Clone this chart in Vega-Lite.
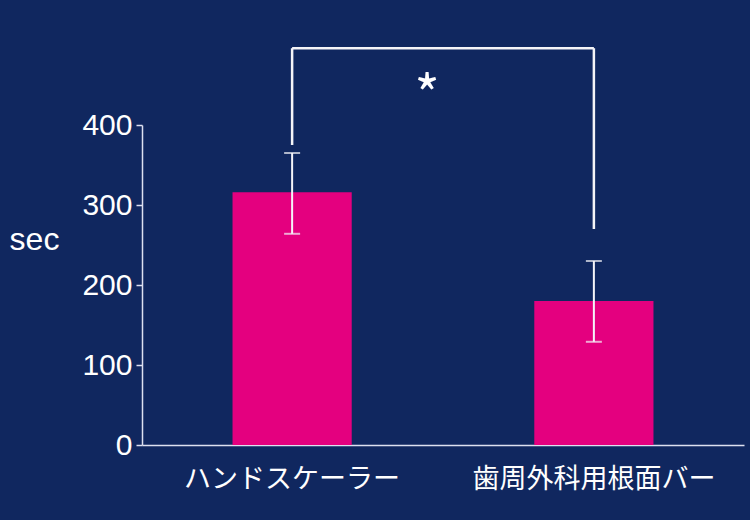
{
  "$schema": "https://vega.github.io/schema/vega-lite/v6.json",
  "autosize": "none",
  "width": 602,
  "height": 320,
  "padding": {"left": 142, "top": 125, "right": 6, "bottom": 75},
  "background": "#10275f",
  "config": {"view": {"stroke": null}},
  "datasets": {
    "bars": [
      {"cat": "ハンドスケーラー", "mean": 316, "lo": 264, "hi": 365},
      {"cat": "歯周外科用根面バー", "mean": 180, "lo": 129, "hi": 230}
    ],
    "legs": [
      {"cat": "ハンドスケーラー", "y": 375, "y2": 496},
      {"cat": "歯周外科用根面バー", "y": 270, "y2": 496}
    ],
    "top": [
      {"from": "ハンドスケーラー", "to": "歯周外科用根面バー", "y": 496, "label": "*", "ly": 452}
    ]
  },
  "encoding": {
    "x": {
      "field": "cat", "type": "nominal", "sort": null,
      "scale": {"domain": ["ハンドスケーラー", "歯周外科用根面バー"], "paddingInner": 0.605, "paddingOuter": 0.3},
      "axis": {
        "title": null, "labelAngle": 0, "ticks": false, "labelLimit": 0,
        "domainColor": "#dde0f0", "domainWidth": 1.5,
        "labelColor": "#ffffff", "labelFont": "Noto Sans CJK JP", "labelFontSize": 27,
        "labelPadding": 21
      }
    }
  },
  "layer": [
    {
      "data": {"name": "bars"},
      "mark": {"type": "bar", "color": "#e4007f"},
      "encoding": {
        "y": {
          "field": "mean", "type": "quantitative",
          "scale": {"domain": [0, 400], "nice": false},
          "axis": {
            "values": [0, 100, 200, 300, 400], "grid": false,
            "domainColor": "#dde0f0", "domainWidth": 1.5,
            "tickColor": "#dde0f0", "tickWidth": 1.5, "tickSize": 6,
            "labelColor": "#ffffff", "labelFont": "Liberation Sans", "labelFontSize": 30,
            "labelPadding": 4,
            "title": "sec", "titleAngle": 0, "titleColor": "#ffffff",
            "titleFont": "Liberation Sans", "titleFontSize": 32, "titleFontWeight": "normal",
            "titleAlign": "center", "titleBaseline": "middle", "titleX": -108, "titleY": 114
          }
        }
      }
    },
    {
      "data": {"name": "bars"},
      "mark": {"type": "rule", "color": "#f4f4f8", "strokeWidth": 2},
      "encoding": {"y": {"field": "lo", "type": "quantitative"}, "y2": {"field": "hi"}}
    },
    {
      "data": {"name": "bars"},
      "mark": {"type": "tick", "color": "#f4f4f8", "thickness": 2, "size": 16, "orient": "horizontal"},
      "encoding": {"y": {"field": "lo", "type": "quantitative"}}
    },
    {
      "data": {"name": "bars"},
      "mark": {"type": "tick", "color": "#f4f4f8", "thickness": 2, "size": 16, "orient": "horizontal"},
      "encoding": {"y": {"field": "hi", "type": "quantitative"}}
    },
    {
      "data": {"name": "legs"},
      "mark": {"type": "rule", "color": "#f4f4f8", "strokeWidth": 2.5},
      "encoding": {"y": {"field": "y", "type": "quantitative"}, "y2": {"field": "y2"}}
    },
    {
      "data": {"name": "top"},
      "mark": {"type": "rule", "color": "#f4f4f8", "strokeWidth": 2.5},
      "encoding": {
        "x": {"field": "from", "type": "nominal"},
        "x2": {"field": "to"},
        "y": {"field": "y", "type": "quantitative"}
      }
    },
    {
      "data": {"name": "top"},
      "mark": {"type": "text", "color": "#ffffff", "font": "Noto Sans CJK JP", "fontSize": 54, "fontWeight": "normal", "baseline": "middle", "dx": 135, "dy": 16},
      "encoding": {
        "x": {"field": "from", "type": "nominal"},
        "y": {"field": "ly", "type": "quantitative"},
        "text": {"field": "label"}
      }
    }
  ]
}
